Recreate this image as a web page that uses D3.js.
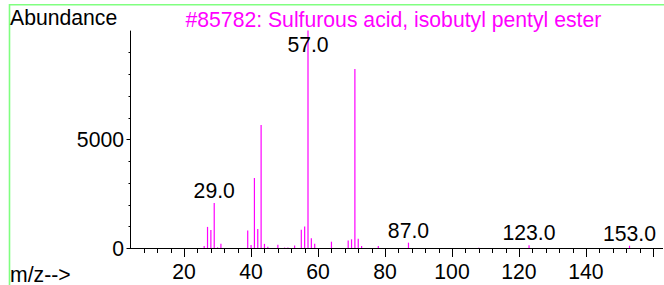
<!DOCTYPE html>
<html>
<head>
<meta charset="utf-8">
<script src="https://cdn.jsdelivr.net/npm/d3@7/dist/d3.min.js"></script>
<style>
html,body{margin:0;padding:0;background:#fff;}
svg{display:block;font-family:"Liberation Sans",Arial,sans-serif;}
</style>
</head>
<body>
<svg id="chart" width="664" height="285"></svg>
<script>
// ---- data ----
const title = "#85782: Sulfurous acid, isobutyl pentyl ester";
const mz = [26,27,28,29,30,31,39,40,41,42,43,44,45,48,50,51,53,55,56,57,58,59,64,69,70,71,72,73,78,87,108,123,153];
const abundance = [92,970,830,2070,30,200,800,140,3220,870,5660,190,60,150,20,20,110,840,990,9999,450,190,290,345,400,8230,430,92,92,245,15,124,106];
const labeledPeaks = [29,57,87,123,153];
const xTickValues = [20,40,60,80,100,120,140];
const yTickValues = [0,5000];

const svg = d3.select("#chart");
const W = 664, H = 285;
const fs = 21.2;

// frame (green)
svg.append("path")
  .attr("d", `M9.5,${H} V4.8 H${W}`)
  .attr("fill","none").attr("stroke","#80ff80").attr("stroke-width",1.6);

const x = d3.scaleLinear().domain([4,163]).range([130.5,663]);
const y = d3.scaleLinear().domain([0,10000]).range([248,30.6]);
const ymax = d3.max(abundance);

// peaks
const g = svg.append("g");
g.selectAll("line.peak").data(mz.map((m,i)=>({m,v:abundance[i]}))).join("line")
  .attr("class","peak")
  .attr("x1",d=>x(d.m)).attr("x2",d=>x(d.m))
  .attr("y1",y(0)).attr("y2",d=>y(d.v))
  .attr("stroke","#ff00ff").attr("stroke-width",1.2);

// x axis
const xAxisG = svg.append("g");
xAxisG.append("line").attr("x1",x(4)).attr("x2",x(163)).attr("y1",y(0)+0.5).attr("y2",y(0)+0.5)
  .attr("stroke","#000").attr("stroke-width",1);
const minorX = d3.range(8,161,4);
xAxisG.selectAll("line.tick").data(minorX).join("line")
  .attr("class","tick")
  .attr("x1",d=>Math.round(x(d))+0.5).attr("x2",d=>Math.round(x(d))+0.5)
  .attr("y1",y(0)).attr("y2",d=> y(0) + (d%20===0 ? 9 : 5))
  .attr("stroke","#000").attr("stroke-width",1);
xAxisG.selectAll("text").data(xTickValues).join("text")
  .attr("x",d=>x(d)).attr("y",279)
  .attr("text-anchor","middle").attr("font-size",fs).attr("fill","#000")
  .text(d=>d);

// y axis
const yAxisG = svg.append("g");
yAxisG.append("line").attr("x1",130.5).attr("x2",130.5).attr("y1",y(ymax)).attr("y2",y(0)+1)
  .attr("stroke","#000").attr("stroke-width",1);
const minorY = d3.range(0,10000,1000);
yAxisG.selectAll("line.tick").data(minorY).join("line")
  .attr("class","tick")
  .attr("x1",d=> 130.5 - (d%5000===0 ? 4 : 2)).attr("x2",130.5)
  .attr("y1",d=>Math.round(y(d))+0.5).attr("y2",d=>Math.round(y(d))+0.5)
  .attr("stroke","#000").attr("stroke-width",1);
yAxisG.selectAll("text").data(yTickValues).join("text")
  .attr("x",124).attr("y",d=>y(d)+7.5)
  .attr("text-anchor","end").attr("font-size",fs).attr("fill","#000")
  .text(d=>d);

// peak labels
svg.selectAll("text.plabel").data(labeledPeaks).join("text")
  .attr("class","plabel")
  .attr("x",d=>x(d)).attr("y",d=>Math.max(y(abundance[mz.indexOf(d)]) - 5, 52))
  .attr("text-anchor","middle").attr("font-size",fs).attr("fill","#000")
  .text(d=>d.toFixed(1));

// titles
svg.append("text").attr("x",10).attr("y",25).attr("font-size",fs).attr("fill","#000").text("Abundance");
svg.append("text").attr("x",185.5).attr("y",26.5).attr("font-size",fs).attr("fill","#ff00ff").text(title);
svg.append("text").attr("x",10).attr("y",281.5).attr("font-size",fs).attr("fill","#000").text("m/z-->");
</script>
</body>
</html>
